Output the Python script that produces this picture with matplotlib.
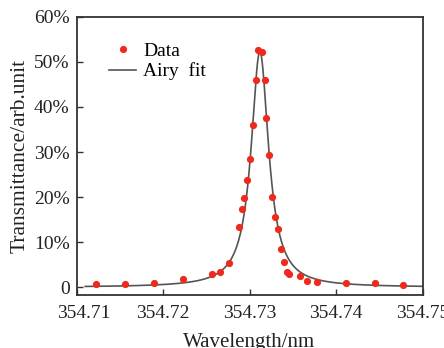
import numpy as np
import matplotlib
matplotlib.use("Agg")
import matplotlib.pyplot as plt
import matplotlib.transforms as mtransforms

# Measured data points (wavelength nm, transmittance %)
wl_data = [354.7122, 354.71565, 354.7190, 354.72228, 354.7257, 354.72663, 354.72763,
           354.72879, 354.72913, 354.7294, 354.7297, 354.73006, 354.7304, 354.73071,
           354.7310, 354.73145, 354.7318, 354.73194, 354.7323, 354.73264, 354.73295,
           354.73326, 354.73368, 354.73395, 354.73434, 354.73457, 354.7358, 354.73665,
           354.7378, 354.74112, 354.74447, 354.74778]
tr_data = [0.67, 0.67, 0.9, 1.9, 3.0, 3.5, 5.4,
           13.4, 17.3, 19.8, 23.7, 28.5, 35.9, 46.0,
           52.7, 52.2, 46.0, 37.6, 29.3, 20.1, 15.5,
           12.9, 8.6, 5.6, 3.5, 3.0, 2.6, 1.5,
           1.25, 0.9, 0.95, 0.45]

# Airy fit parameters
fit_peak = 52.3       # %
fit_center = 354.7312  # nm
fit_fwhm = 0.00245     # nm
fit_range = [354.711, 354.75]

xticks = [354.71, 354.72, 354.73, 354.74, 354.75]
xticklabels = ["354.71", "354.72", "354.73", "354.74", "354.75"]
yticks = [0, 10, 20, 30, 40, 50, 60]
yticklabels = ["0", "10%", "20%", "30%", "40%", "50%", "60%"]

plt.rcParams['font.family'] = ['Liberation Serif', 'DejaVu Serif']
plt.rcParams['font.size'] = 14

fig = plt.figure(figsize=(4.44, 3.48), dpi=100)
ax = fig.add_axes([76.5/444, 1 - 295/348, (422.5-76.5)/444, (295-16.7)/348])

# Airy function (near resonance form)
wl_fit = np.linspace(fit_range[0], fit_range[1], 800)
fsr = 0.2
F = (2 * fsr / (np.pi * fit_fwhm)) ** 2
tr_fit = fit_peak / (1 + F * np.sin(np.pi * (wl_fit - fit_center) / fsr) ** 2)

ax.plot(wl_fit, tr_fit, color='#555555', lw=1.2, label='Airy  fit', zorder=2)
ax.plot(wl_data, tr_data, 'o', color='#ee2a1e', ms=5.2, mec='none', label='Data', zorder=3)

ax.set_xlim(354.71, 354.75)
ax.set_ylim(-1.7, 60)
ax.set_xticks(xticks)
ax.set_xticklabels(xticklabels)
ax.set_yticks(yticks)
ax.set_yticklabels(yticklabels)
ax.tick_params(direction='in', length=4, width=1, colors='#333333', labelcolor='#222222',
               labelsize=14)
ax.tick_params(axis='x', pad=7)
ax.tick_params(axis='y', pad=5)
for s in ax.spines.values():
    s.set_color('#333333')
    s.set_linewidth(1.3)

# shift first x tick label right as in reference
lab0 = ax.get_xticklabels()[0]
lab0.set_transform(lab0.get_transform() + mtransforms.ScaledTranslation(7/100, 0, fig.dpi_scale_trans))

ax.set_xlabel('Wavelength/nm', labelpad=8, color='#222222', fontsize=15)
ax.set_ylabel('Transmittance/arb.unit', labelpad=3, color='#222222', fontsize=15.5)

handles, labels = ax.get_legend_handles_labels()
ax.legend(handles[::-1], labels[::-1], loc='upper left', bbox_to_anchor=(0.072, 0.937),
          frameon=False, handlelength=1.4, handletextpad=0.35, labelspacing=0.15,
          borderaxespad=0, fontsize=14)

fig.savefig('out.png', dpi=100)
